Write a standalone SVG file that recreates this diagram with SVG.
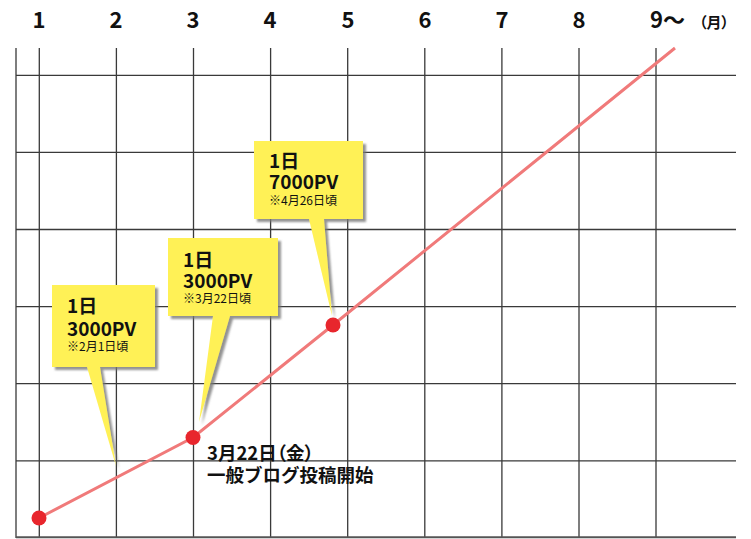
<svg xmlns="http://www.w3.org/2000/svg" width="751" height="539" viewBox="0 0 751 539">
<style>
.g{stroke:#3a3a3a;stroke-width:1.3;fill:none}
.t{font-family:"Noto Sans CJK JP","Noto Sans",sans-serif;font-weight:bold;fill:#111}
.ax{font-size:22px;text-anchor:middle}
.big{font-size:19px}
.sm{font-size:12px;font-weight:normal}
.co{fill:#FFF157;filter:url(#sh)}
.dot{fill:#E8262D}
</style>
<defs>
<filter id="sh" x="-20%" y="-20%" width="150%" height="150%">
<feDropShadow dx="3" dy="3" stdDeviation="1.2" flood-color="#777" flood-opacity="0.8"/>
</filter>
</defs>
<rect width="751" height="539" fill="#fff"/>
<g id="axis-labels" class="t">
<text class="ax" x="39" y="28">1</text>
<text class="ax" x="116" y="28">2</text>
<text class="ax" x="193" y="28">3</text>
<text class="ax" x="270" y="28">4</text>
<text class="ax" x="348" y="28">5</text>
<text class="ax" x="425" y="28">6</text>
<text class="ax" x="502" y="28">7</text>
<text class="ax" x="579" y="28">8</text>
<text x="650" y="28" style="font-size:22px">9〜</text>
<text x="699" y="28" style="font-size:15px;font-feature-settings:'palt'">（月）</text>
</g>
<g id="grid">
<path class="g" d="M16,48V538 M39.3,48V538 M116.4,48V538 M193.5,48V538 M270.6,48V538 M347.7,48V538 M424.8,48V538 M501.9,48V538 M579,48V538 M656,48V538"/>
<path class="g" d="M16,75.3H736 M16,152.4H736 M16,229.5H736 M16,306.6H736 M16,383.7H736 M16,460.8H736"/>
<path d="M16,537.3H736" stroke="#555" stroke-width="2"/>
</g>
<g id="connectors">
<polyline points="39,518 193,437.5 333,325 675,48" fill="none" stroke="#F07A7A" stroke-width="3"/>
</g>
<g id="callout-feb">
<path class="co" d="M52,285H155V367H100L116,466L87,367H52Z"/>
<text class="t big" x="67" y="313">1日</text>
<text class="t big" x="67" y="336">3000PV</text>
<text class="t sm" x="67" y="351">※2月1日頃</text>
</g>
<g id="callout-mar">
<path class="co" d="M168,238H278V316H230L199,422L213,316H168Z"/>
<text class="t big" x="183" y="267">1日</text>
<text class="t big" x="183" y="288">3000PV</text>
<text class="t sm" x="183" y="303">※3月22日頃</text>
</g>
<g id="callout-apr">
<path class="co" d="M254,141H363V219H324L332,316L309,219H254Z"/>
<text class="t big" x="269" y="168">1日</text>
<text class="t big" x="269" y="189">7000PV</text>
<text class="t sm" x="269" y="205">※4月26日頃</text>
</g>
<g id="points">
<circle class="dot" cx="39" cy="518" r="7.5"/>
<circle class="dot" cx="193" cy="437.5" r="7.5"/>
<circle class="dot" cx="333" cy="325" r="7.5"/>
</g>
<g id="note" class="t" style="font-size:18.5px">
<text x="207" y="460" style="font-feature-settings:'palt'">3月22日（金）</text>
<text x="207" y="482">一般ブログ投稿開始</text>
</g>
</svg>
